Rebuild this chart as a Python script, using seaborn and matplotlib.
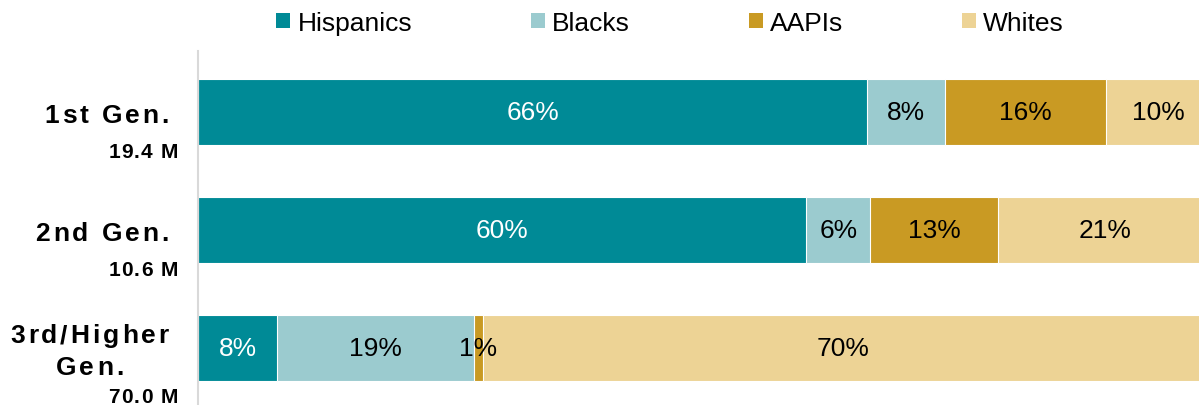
import numpy as np
import pandas as pd
import matplotlib
matplotlib.use("Agg")
import matplotlib.pyplot as plt
from matplotlib.patches import Patch
from matplotlib.font_manager import FontProperties, findfont
from matplotlib.ft2font import FT2Font
import seaborn as sns

# Data
gens = ["1st Gen.", "2nd Gen.", "3rd/Higher\nGen."]
sizes = ["19.4 M", "10.6 M", "70.0 M"]
groups = ["Hispanics", "Blacks", "AAPIs", "Whites"]
hispanics = [66.0, 60.0, 7.8]
blacks = [7.7, 6.3, 19.4]
aapis = [15.8, 12.6, 0.9]
whites = [10.5, 21.1, 71.0]
hisp_lbl = ["66%", "60%", "8%"]
blacks_lbl = ["8%", "6%", "19%"]
aapis_lbl = ["16%", "13%", "1%"]
whites_lbl = ["10%", "21%", "70%"]

colors = ["#008A96", "#9BCBCF", "#C99A23", "#EDD395"]
txt_colors = ["white", "black", "black", "black"]

df = pd.DataFrame({"gen": gens, "Hispanics": hispanics, "Blacks": blacks,
                   "AAPIs": aapis, "Whites": whites})
cum = df[groups].cumsum(axis=1)
labels = [hisp_lbl, blacks_lbl, aapis_lbl, whites_lbl]

sns.set_style("white")
plt.rcParams["font.family"] = ["Liberation Sans", "DejaVu Sans"]
plt.rcParams["text.color"] = "black"

DPI = 100
fig = plt.figure(figsize=(11.99, 4.06), dpi=DPI)
ax = fig.add_axes([198 / 1199, 0, 1 - 198 / 1199, 1 - 52 / 406])

# stacked bars: draw cumulative totals from widest to narrowest
for g, c in reversed(list(zip(groups, colors))):
    sns.barplot(x=cum[g], y=df["gen"], orient="h", color=c, width=0.56,
                edgecolor="white", linewidth=0.8, saturation=1, ax=ax)

# segment labels
for gi, g in enumerate(groups):
    for i in range(len(gens)):
        start = cum[g][i] - df[g][i]
        ax.text(start + df[g][i] / 2, i, labels[gi][i], ha="center", va="center",
                fontsize=19, color=txt_colors[gi])

ax.set_xlim(0, 1001 / 10.14)
ax.set_ylim(2.483, -0.517)
ax.set_xlabel("")
ax.set_ylabel("")
ax.set_xticks([])
ax.set_yticks([])
for s in ["top", "right", "bottom"]:
    ax.spines[s].set_visible(False)
ax.spines["left"].set_color("#D9D9D9")
ax.spines["left"].set_linewidth(1.5)

# letter-spaced bold labels left of the axis
bold_file = findfont(FontProperties(family="Liberation Sans", weight="bold"))
ft = FT2Font(bold_file)


def advances(s, size):
    ft.set_size(size, DPI)
    return [ft.load_char(ord(ch)).linearHoriAdvance / 65536 for ch in s]


def tracked(s, yi, right_px, base_px, size, track_px, align="right", center_px=None):
    adv = advances(s, size)
    total = sum(adv) + track_px * (len(s) - 1)
    if align == "right":
        x0 = right_px - total
    else:
        x0 = center_px - total / 2
    x = x0
    for ch, a in zip(s, adv):
        ax.annotate(ch, xy=(0, yi), xycoords=("axes fraction", "data"),
                    xytext=(x * 72 / DPI, -base_px * 72 / DPI), textcoords="offset points",
                    ha="left", va="baseline", fontsize=size, fontweight="bold",
                    color="black", annotation_clip=False)
        x += a + track_px


for i in range(len(gens)):
    lines = gens[i].split("\n")
    if len(lines) == 1:
        tracked(lines[0], i, -29, 10, 19, 3.0)
        tracked(sizes[i], i, -20, 45, 15, 1.2)
    else:
        w1 = sum(advances(lines[0], 19)) + 3.0 * (len(lines[0]) - 1)
        c = -29 - w1 / 2
        tracked(lines[0], i, -29, -6, 19, 3.0)
        tracked(lines[1], i, None, 26, 19, 3.0, align="center", center_px=c)
        tracked(sizes[i], i, -20, 54, 15, 1.2)

handles = [Patch(facecolor=c, edgecolor="none", label=g) for g, c in zip(groups, colors)]
fig.legend(handles=handles, loc="center", bbox_to_anchor=(670 / 1199, 1 - 24 / 406),
           ncol=4, frameon=False, fontsize=19, handlelength=0.53, handleheight=0.53,
           handletextpad=0.27, columnspacing=4.5, borderpad=0)

fig.savefig("out.png", dpi=DPI)
